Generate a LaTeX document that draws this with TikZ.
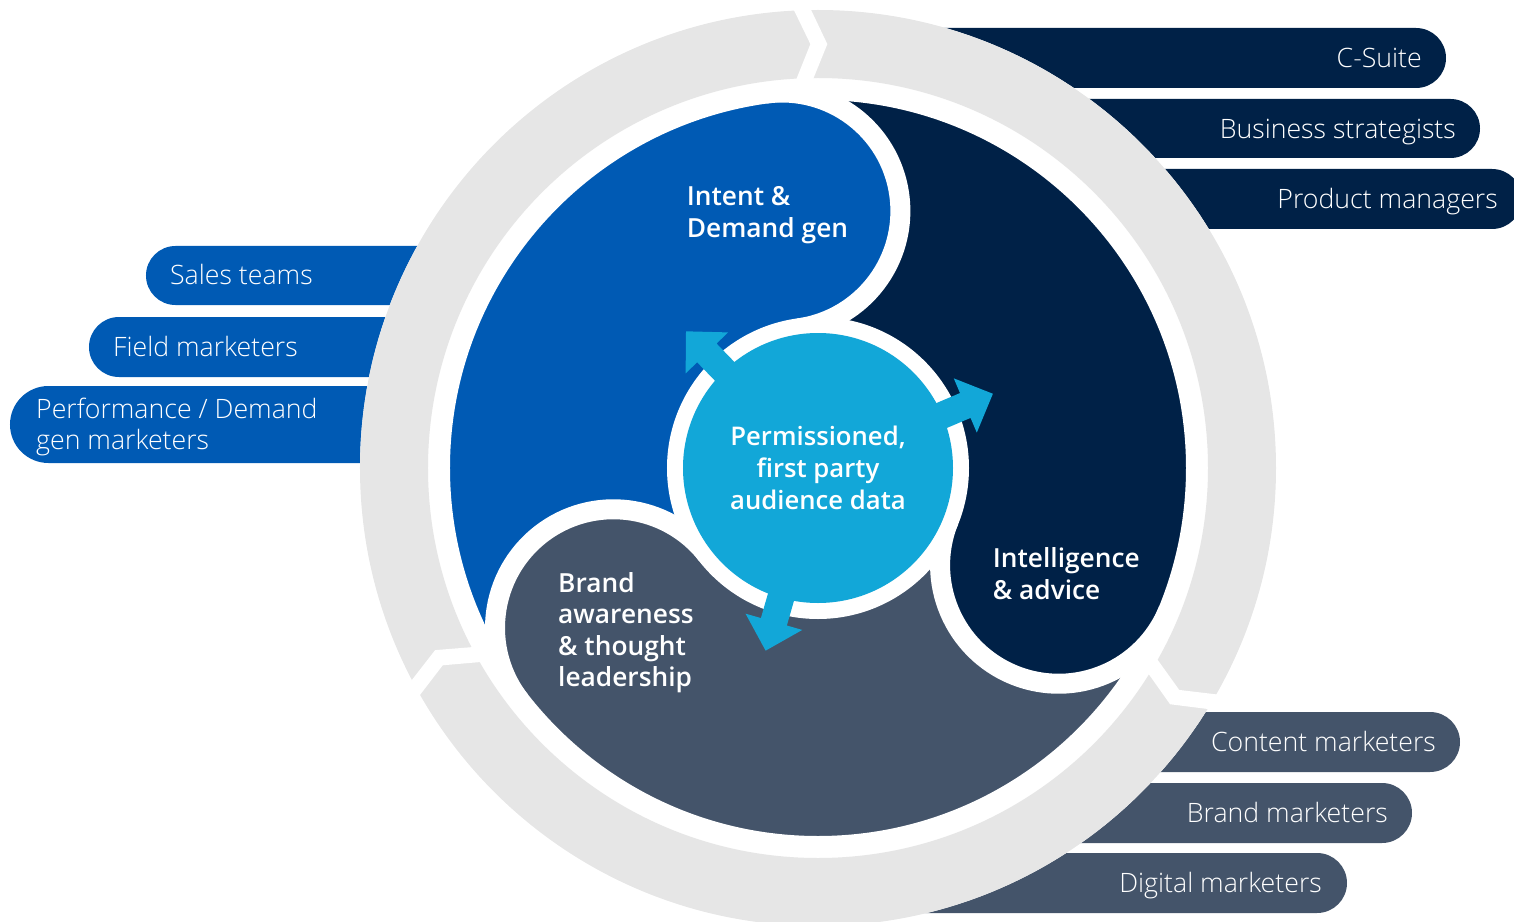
\documentclass[tikz,border=0pt]{standalone}
\usepackage{fontspec}
\setmainfont{Open Sans}
\newfontfamily\lightfont{Open Sans Light}
\newfontfamily\semifont{Open Sans Semibold}
\usetikzlibrary{calc}
\definecolor{cblue}{HTML}{005AB4}
\definecolor{cnavy}{HTML}{002147}
\definecolor{cslate}{HTML}{44546A}
\definecolor{clight}{HTML}{12A7D8}
\definecolor{cgray}{HTML}{E6E6E6}
\tikzset{
  pilltext/.style={text=white, font=\lightfont\fontsize{26.7}{31}\selectfont, inner sep=0pt, align=left},
  regtext/.style={text=white, font=\semifont\fontsize{26.3}{32}\selectfont, inner sep=0pt, align=left},
  gapline/.style={white, line width=20pt},
}
\begin{document}
\begin{tikzpicture}[x=1pt,y=1pt]
\useasboundingbox (-818,-453) rectangle (696,468);
% ---- pills (left, blue)
\fill[cblue, rounded corners=29.5pt] (-672,222) -- (0,222) -- (0,163) -- (-672,163) -- cycle;
\fill[cblue, rounded corners=30pt] (-729,151) -- (0,151) -- (0,91) -- (-729,91) -- cycle;
\fill[cblue, rounded corners=38.5pt] (-808,82) -- (0,82) -- (0,5) -- (-808,5) -- cycle;
% ---- pills (right, navy)
\fill[cnavy, rounded corners=30pt] (0,440) -- (628,440) -- (628,380) -- (0,380) -- cycle;
\fill[cnavy, rounded corners=29.5pt] (0,369) -- (662,369) -- (662,310) -- (0,310) -- cycle;
\fill[cnavy, rounded corners=30pt] (0,299) -- (704,299) -- (704,239) -- (0,239) -- cycle;
% ---- pills (bottom right, slate)
\fill[cslate, rounded corners=30pt] (0,-244) -- (642,-244) -- (642,-304) -- (0,-304) -- cycle;
\fill[cslate, rounded corners=30pt] (0,-315) -- (594,-315) -- (594,-375) -- (0,-375) -- cycle;
\fill[cslate, rounded corners=30pt] (0,-385) -- (529,-385) -- (529,-445) -- (0,-445) -- cycle;
% ---- pill texts
\node[pilltext, anchor=base west] (sales) at (-648,183) {Sales teams};
\node[pilltext, anchor=base west] (field) at (-705,111.5) {Field marketers};
\node[pilltext, anchor=base west] (perf) at (-782,19) {Performance / Demand\\gen marketers};
\node[pilltext, anchor=base east] (csuite) at (604,400) {C-Suite};
\node[pilltext, anchor=base east] (biz) at (638,329.7) {Business strategists};
\node[pilltext, anchor=base east] (prod) at (680,259.5) {Product managers};
\node[pilltext, anchor=base east] (content) at (618,-283.5) {Content marketers};
\node[pilltext, anchor=base east] (brandm) at (570,-354.5) {Brand marketers};
\node[pilltext, anchor=base east] (digital) at (504,-424.5) {Digital marketers};
% ---- outer ring
\fill[white] (0,0) circle[radius=458pt];
\fill[cgray, even odd rule] (0,0) circle[radius=458pt] (0,0) circle[radius=390pt];
\foreach \g in {91,207.7,328.4}{
  \pgfmathsetmacro\aA{\g+(8.25-8.5)/460*57.2958}
  \pgfmathsetmacro\aB{\g+(-8.25-8.5)/424*57.2958}
  \pgfmathsetmacro\aC{\g+(8.25-8.5)/385*57.2958}
  \pgfmathsetmacro\aD{\g+(8.25+8.5)/385*57.2958}
  \pgfmathsetmacro\aE{\g+(-8.25+8.5)/424*57.2958}
  \pgfmathsetmacro\aF{\g+(8.25+8.5)/460*57.2958}
  \fill[white] (\aA:460pt) -- (\aB:424pt) -- (\aC:385pt) -- (\aD:385pt) -- (\aE:424pt) -- (\aF:460pt) -- cycle;
}
% ---- three regions
\foreach \a/\c in {98/cblue,-22/cnavy,218/cslate}{
  \fill[\c] (\a:141pt) -- (\a:378pt) arc[start angle=\a, end angle=\a+120, radius=378pt]
     -- ({\a+120}:141pt) arc[start angle=\a+120, end angle=\a, radius=141pt] -- cycle;
}
\foreach \a/\c in {98/cblue,-22/cnavy,218/cslate}{
  \fill[\c] (\a:259.5pt) circle[radius=118.5pt];
}
\draw[gapline] (0,0) circle[radius=378pt];
\draw[gapline] (0,0) circle[radius=141pt];
\foreach \a in {98,-22,218}{
  \draw[gapline] (\a:378pt) arc[start angle=\a, end angle=\a-180, radius=118.5pt];
}
% ---- centre and arrows
\foreach \ang in {23,134,254}{
  \fill[clight, rotate=\ang] (120,-13.5) -- (160,-13.5) -- (160,-29.5) -- (190,0) -- (160,29.5) -- (160,13.5) -- (120,13.5) -- cycle;
}
\node[circle, fill=clight, minimum size=270pt, inner sep=0pt, text=white,
      font=\semifont\fontsize{25.7}{32}\selectfont, align=center] (core) at (0,0)
      {Permissioned,\\first party\\audience data};
% ---- region texts
\node[regtext, anchor=base west] (intent) at (-131.3,230.7) {Intent \&\\Demand gen};
\node[regtext, anchor=base west] (intel) at (174.7,-131) {Intelligence\\\& advice};
\node[regtext, anchor=base west, font=\semifont\fontsize{26.3}{31.5}\selectfont] (brand) at (-260,-218.5) {Brand\\awareness\\\& thought\\leadership};
\end{tikzpicture}
\end{document}
